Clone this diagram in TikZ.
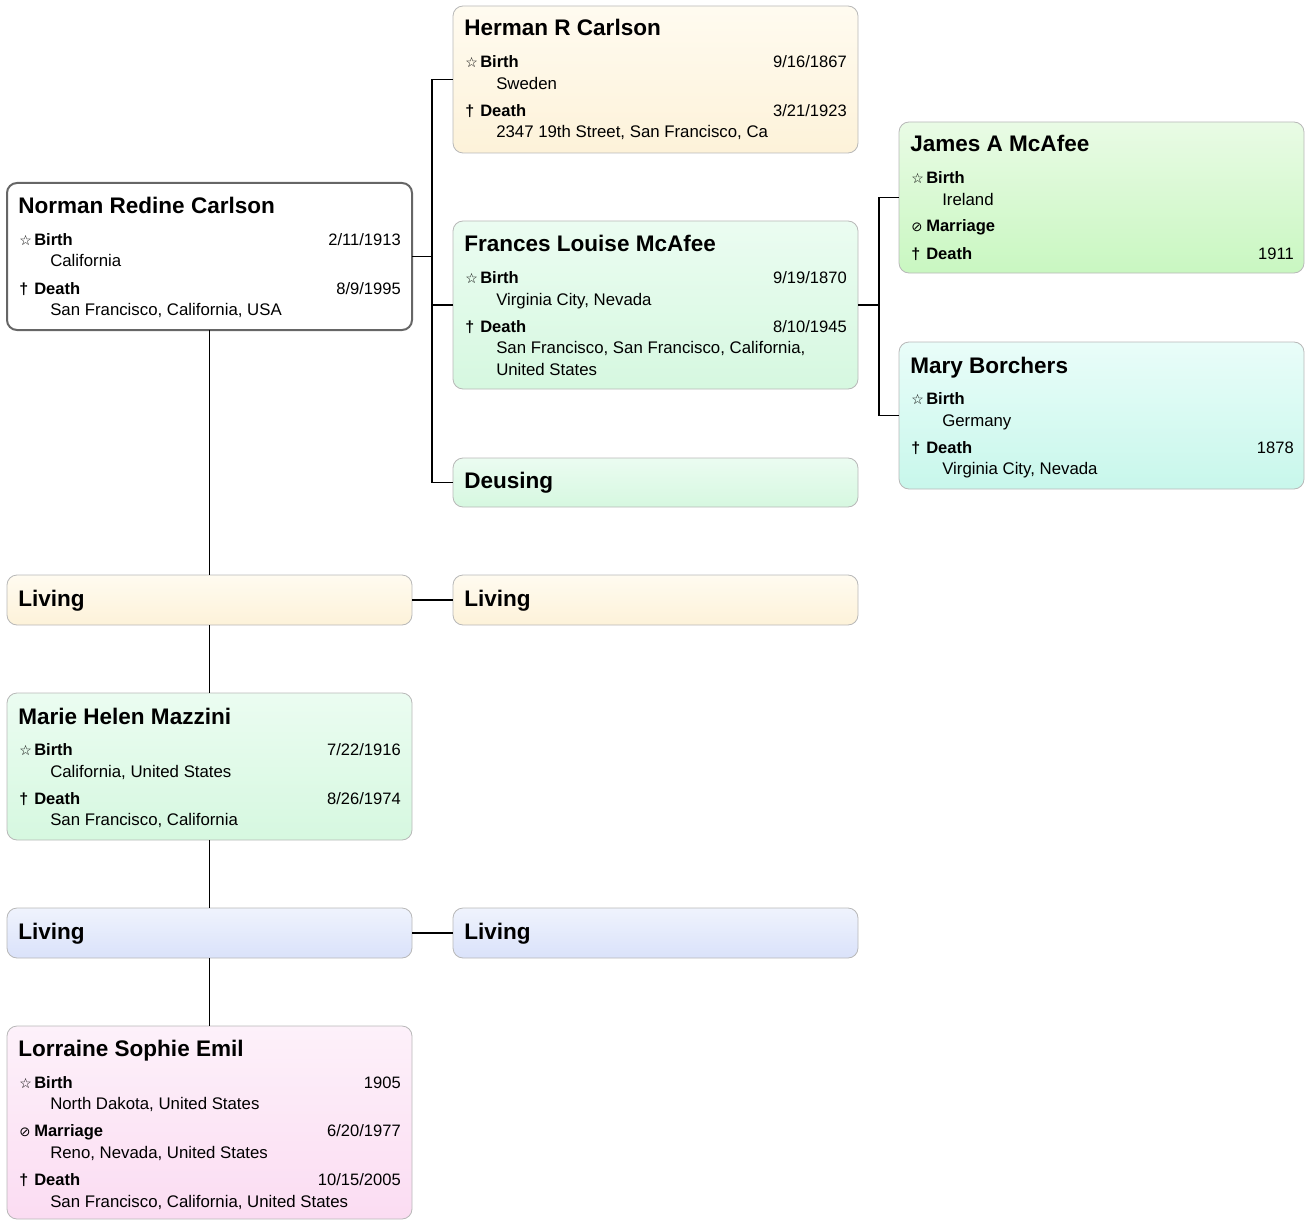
\documentclass[tikz,border=0pt]{standalone}
\usepackage{fontspec}
\setmainfont{Liberation Sans}
\newfontfamily\symfont{DejaVu Sans}
\usepackage{xcolor}
\usepackage{tikz}

\definecolor{creamtop}{HTML}{FFFBF0}
\definecolor{creambot}{HTML}{FDF2D9}
\definecolor{minttop}{HTML}{EBFCF1}
\definecolor{mintbot}{HTML}{D6F8E0}
\definecolor{greentop}{HTML}{E9FBE5}
\definecolor{greenbot}{HTML}{C9F7C1}
\definecolor{aquatop}{HTML}{E9FDF9}
\definecolor{aquabot}{HTML}{C8F7EB}
\definecolor{bluetop}{HTML}{EFF3FD}
\definecolor{bluebot}{HTML}{DAE2FA}
\definecolor{pinktop}{HTML}{FDF1FA}
\definecolor{pinkbot}{HTML}{FBDCF2}

\newcommand{\evicon}[1]{\makebox[11.25pt][l]{#1}}
\newcommand{\evbirth}{\evicon{\symfont\fontsize{10.5}{11}\selectfont ☆}\textbf{Birth}}
\newcommand{\evdeath}{\evicon{\bfseries\fontsize{12}{12}\selectfont †}\textbf{Death}}
\newcommand{\evmarr}{\evicon{\symfont\fontsize{10}{11}\selectfont ⊘}\textbf{Marriage}}

\begin{document}
\begin{tikzpicture}[
    x=0.75pt, y=-0.75pt,
    card/.style={draw=black!28,line width=0.6pt,rounded corners=7.5pt,anchor=north west,
        minimum width=303.75pt,inner sep=0pt,outer sep=0pt},
    cream/.style={top color=creamtop,bottom color=creambot},
    mint/.style={top color=minttop,bottom color=mintbot},
    green/.style={top color=greentop,bottom color=greenbot},
    aqua/.style={top color=aquatop,bottom color=aquabot},
    blue/.style={top color=bluetop,bottom color=bluebot},
    pink/.style={top color=pinktop,bottom color=pinkbot},
    root/.style={draw=black!60,line width=1.5pt,fill=white},
    pname/.style={anchor=base west,inner sep=0pt,font=\bfseries\fontsize{16.9}{19}\selectfont},
    evlabel/.style={anchor=base west,inner sep=0pt,font=\fontsize{12.4}{14}\selectfont},
    evdate/.style={anchor=base east,inner sep=0pt,font=\fontsize{12.4}{14}\selectfont},
    evplace/.style={anchor=base west,inner sep=0pt,font=\fontsize{12.6}{14}\selectfont},
    link/.style={draw=black,line width=0.8pt}
]
\useasboundingbox (0,0) rectangle (1307,1220);

% cards
\node[card,root,minimum height=110.25pt] (norman) at (7,183) {};
\node[card,cream,minimum height=110.25pt] (herman) at (453,6) {};
\node[card,mint,minimum height=126pt] (frances) at (453,221) {};
\node[card,mint,minimum height=36.75pt] (deusing) at (453,458) {};
\node[card,green,minimum height=113.25pt] (james) at (899,122) {};
\node[card,aqua,minimum height=110.25pt] (mary) at (899,342) {};
\node[card,cream,minimum height=37.5pt] (living1) at (7,575) {};
\node[card,cream,minimum height=37.5pt] (living2) at (453,575) {};
\node[card,mint,minimum height=110.25pt] (marie) at (7,693) {};
\node[card,blue,minimum height=37.5pt] (living3) at (7,908) {};
\node[card,blue,minimum height=37.5pt] (living4) at (453,908) {};
\node[card,pink,minimum height=144.75pt] (lorraine) at (7,1026) {};

% Norman
\node[pname] (norman-n) at (18,214) {Norman Redine Carlson};
\node[evlabel] (norman-b) at (19,245) {\evbirth};
\node[evdate] (norman-bd) at (401,245) {2/11/1913};
\node[evplace] (norman-bp) at (50,267) {California};
\node[evlabel] (norman-d) at (19,294) {\evdeath};
\node[evdate] (norman-dd) at (401,294) {8/9/1995};
\node[evplace] (norman-dp) at (50,315) {San Francisco, California, USA};

% Herman
\node[pname] (herman-n) at (464,36) {Herman R Carlson};
\node[evlabel] (herman-b) at (465,68) {\evbirth};
\node[evdate] (herman-bd) at (847,68) {9/16/1867};
\node[evplace] (herman-bp) at (496,90) {Sweden};
\node[evlabel] (herman-d) at (465,117) {\evdeath};
\node[evdate] (herman-dd) at (847,117) {3/21/1923};
\node[evplace] (herman-dp) at (496,138) {2347 19th Street, San Francisco, Ca};

% Frances
\node[pname] (frances-n) at (464,252) {Frances Louise McAfee};
\node[evlabel] (frances-b) at (465,283) {\evbirth};
\node[evdate] (frances-bd) at (847,283) {9/19/1870};
\node[evplace] (frances-bp) at (496,305) {Virginia City, Nevada};
\node[evlabel] (frances-d) at (465,332) {\evdeath};
\node[evdate] (frances-dd) at (847,332) {8/10/1945};
\node[evplace] (frances-dp) at (496,353) {San Francisco, San Francisco, California,};
\node[evplace] (frances-dq) at (496,375) {United States};

% Deusing
\node[pname] (deusing-n) at (464,488) {Deusing};

% James
\node[pname] (james-n) at (910,152) {James A McAfee};
\node[evlabel] (james-b) at (911,184) {\evbirth};
\node[evplace] (james-bp) at (942,205) {Ireland};
\node[evlabel] (james-m) at (911,232) {\evmarr};
\node[evlabel] (james-d) at (911,259) {\evdeath};
\node[evdate] (james-dd) at (1294,259) {1911};

% Mary
\node[pname] (mary-n) at (910,373) {Mary Borchers};
\node[evlabel] (mary-b) at (911,404) {\evbirth};
\node[evplace] (mary-bp) at (942,426) {Germany};
\node[evlabel] (mary-d) at (911,453) {\evdeath};
\node[evdate] (mary-dd) at (1294,453) {1878};
\node[evplace] (mary-dp) at (942,474) {Virginia City, Nevada};

% Living
\node[pname] (living1-n) at (18,606) {Living};
\node[pname] (living2-n) at (464,606) {Living};
\node[pname] (living3-n) at (18,939) {Living};
\node[pname] (living4-n) at (464,939) {Living};

% Marie
\node[pname] (marie-n) at (18,724) {Marie Helen Mazzini};
\node[evlabel] (marie-b) at (19,755) {\evbirth};
\node[evdate] (marie-bd) at (401,755) {7/22/1916};
\node[evplace] (marie-bp) at (50,777) {California, United States};
\node[evlabel] (marie-d) at (19,804) {\evdeath};
\node[evdate] (marie-dd) at (401,804) {8/26/1974};
\node[evplace] (marie-dp) at (50,825) {San Francisco, California};

% Lorraine
\node[pname] (lorraine-n) at (18,1056) {Lorraine Sophie Emil};
\node[evlabel] (lorraine-b) at (19,1088) {\evbirth};
\node[evdate] (lorraine-bd) at (401,1088) {1905};
\node[evplace] (lorraine-bp) at (50,1109) {North Dakota, United States};
\node[evlabel] (lorraine-m) at (19,1136) {\evmarr};
\node[evdate] (lorraine-md) at (401,1136) {6/20/1977};
\node[evplace] (lorraine-mp) at (50,1158) {Reno, Nevada, United States};
\node[evlabel] (lorraine-d) at (19,1185) {\evdeath};
\node[evdate] (lorraine-dd) at (401,1185) {10/15/2005};
\node[evplace] (lorraine-dp) at (50,1207) {San Francisco, California, United States};

% connectors
\coordinate (fork1) at (432,256.5);
\coordinate (fork2) at (879,305);
\draw[link] (norman.east) -- (fork1);
\draw[link] (herman.west) -| (fork1);
\draw[link] (frances.west) -| (fork1);
\draw[link] (deusing.west) -| (fork1);
\draw[link] (frances.east) -- (fork2);
\draw[link] (james.west) -| (fork2);
\draw[link] (mary.west) -| (fork2);
\draw[link] (norman) -- (living1);
\draw[link] (living1) -- (living2);
\draw[link] (living1) -- (marie);
\draw[link] (marie) -- (living3);
\draw[link] (living3) -- (living4);
\draw[link] (living3) -- (lorraine);
\end{tikzpicture}
\end{document}
